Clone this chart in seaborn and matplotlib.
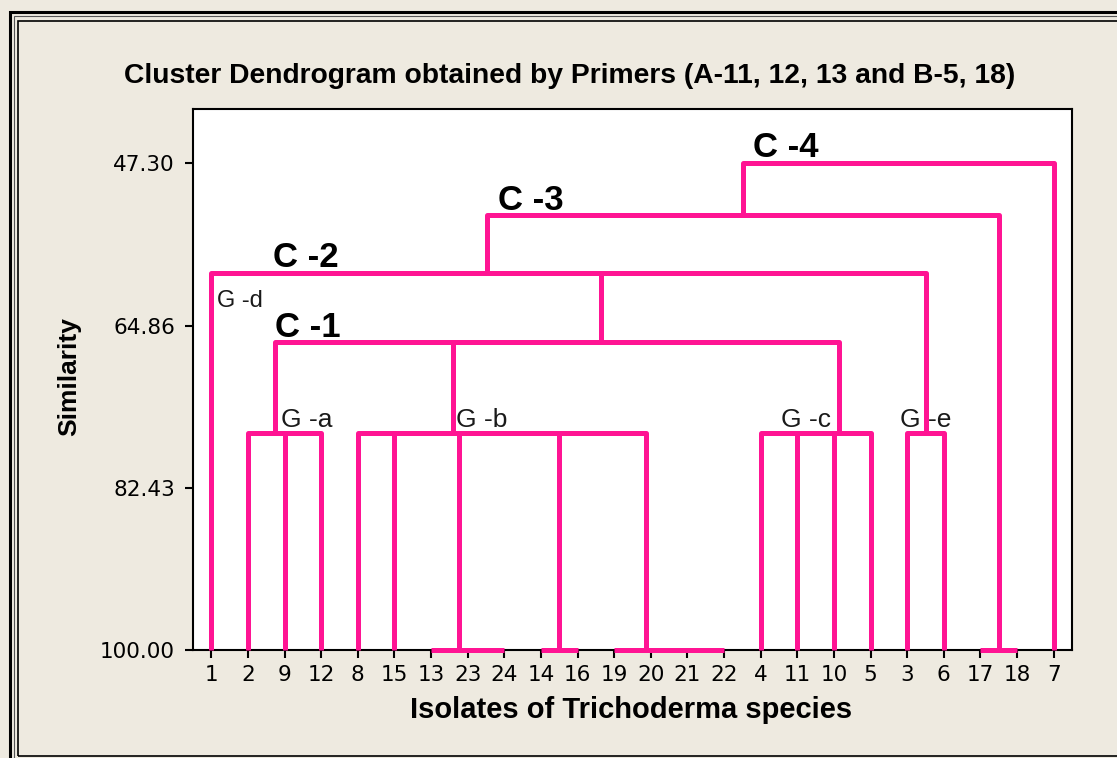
import matplotlib
matplotlib.use('Agg')
import matplotlib.pyplot as plt
from matplotlib.patches import Rectangle
import pandas as pd
import seaborn as sns

# leaf order along the x axis
leaves = ['1', '2', '9', '12', '8', '15', '13', '23', '24', '14', '16', '19',
          '20', '21', '22', '4', '11', '10', '5', '3', '6', '17', '18', '7']

# merge steps: left node, right node, similarity level (new nodes are n0, n1, ...)
merge_left = ['23', '13', '14', '21', '20', '19', '17',
              '9', '2', '8', 'n2', 'n1', 'n9', '4', 'n13', 'n14', '3',
              'n8', 'n17', 'n18', '1', 'n20', 'n21']
merge_right = ['24', 'n0', '16', '22', 'n3', 'n4', '18',
               '12', 'n7', '15', 'n5', 'n10', 'n11', '11', '10', '5', '6',
               'n12', 'n15', 'n16', 'n19', 'n6', '7']
merge_sim = [100, 100, 100, 100, 100, 100, 100,
             76.48, 76.48, 76.48, 76.48, 76.48, 76.48, 76.48, 76.48, 76.48, 76.48,
             66.67, 66.67, 59.14, 59.14, 52.90, 47.30]

y_ticks = [47.30, 64.86, 82.43, 100.00]

# build the dendrogram links
node_x = {lab: i + 1 for i, lab in enumerate(leaves)}
node_h = {lab: 100.0 for lab in leaves}
rows = []
for k, (a, b, h) in enumerate(zip(merge_left, merge_right, merge_sim)):
    xa, xb = node_x[a], node_x[b]
    for px, py in [(xa, node_h[a]), (xa, h), (xb, h), (xb, node_h[b])]:
        rows.append({'link': k, 'x': px, 'sim': py})
    node_x['n%d' % k] = (xa + xb) / 2
    node_h['n%d' % k] = h
seg = pd.DataFrame(rows)

sns.set_theme(style='white')
plt.rcParams['font.family'] = ['DejaVu Sans']
plt.rcParams['text.color'] = 'black'

W, H = 1117, 758
fig = plt.figure(figsize=(W / 100, H / 100), dpi=100, facecolor='#EEEAE0')
ax = fig.add_axes([193 / W, 1 - 650 / H, (1072 - 193) / W, (650 - 109) / H])
ax.set_facecolor('white')

pink = '#FF1493'
sns.lineplot(data=seg, x='x', y='sim', units='link', estimator=None, sort=False,
             color=pink, lw=3.6, legend=False, ax=ax)
for ln in ax.lines:
    ln.set_clip_on(False)
    ln.set_zorder(3)
    ln.set_solid_capstyle('butt')

ax.set_xlim(0.5, 24.5)
ax.set_ylim(100, 41.4)
ax.set_xticks(range(1, len(leaves) + 1))
ax.set_xticklabels(leaves)
ax.set_yticks(y_ticks)
ax.set_yticklabels(['%.2f' % v for v in y_ticks])
ax.tick_params(axis='both', direction='out', length=6, width=1.5, color='black',
               labelcolor='black', labelsize=15.5, left=True, bottom=True)
ax.tick_params(axis='y', pad=7)
ax.tick_params(axis='x', pad=5)
ax.set_xlabel('')
ax.set_ylabel('')
for sp in ax.spines.values():
    sp.set_visible(True)
    sp.set_color('black')
    sp.set_linewidth(1.5)

# cluster / group labels
arial = ['Liberation Sans', 'DejaVu Sans']
for txt, x, y in [('C -4', 15.78, 46.62), ('C -3', 8.84, 52.36),
                  ('C -2', 2.69, 58.54), ('C -1', 2.75, 66.13)]:
    ax.text(x, y, txt, fontsize=25, fontweight='bold', family=arial, color='black',
            ha='left', va='baseline', zorder=2)
ax.text(1.16, 62.88, 'G -d', fontsize=17, family=arial, color='#1a1a1a',
        ha='left', va='baseline', zorder=2)
for txt, x in [('G -a', 2.89), ('G -b', 7.69), ('G -c', 16.55), ('G -e', 19.80)]:
    ax.text(x, 75.88, txt, fontsize=19, family=arial, color='#1a1a1a',
            ha='left', va='baseline', zorder=2)

fig.text(570 / W, 1 - 83 / H,
         'Cluster Dendrogram obtained by Primers (A-11, 12, 13 and B-5, 18)',
         fontsize=20.3, fontweight='bold', family=arial, color='black',
         ha='center', va='baseline')
fig.text(631 / W, 1 - 718 / H, 'Isolates of Trichoderma species',
         fontsize=21, fontweight='bold', family=arial, color='black',
         ha='center', va='baseline')
fig.text(69 / W, 1 - 377 / H, 'Similarity', rotation=90,
         fontsize=19, fontweight='bold', family=arial, color='black',
         ha='center', va='center')

# double frame around the picture
fig.add_artist(Rectangle((10 / W, -0.05), 1.2, 1 - 12 / H + 0.05, transform=fig.transFigure,
                         fill=False, ec='black', lw=2.2))
fig.add_artist(Rectangle((13.5 / W, -0.05), 1.2, 1 - 16 / H + 0.05, transform=fig.transFigure,
                         fill=False, ec='#555555', lw=0.8))
fig.add_artist(Rectangle((17.5 / W, 2 / H), 1.2, 1 - 20.5 / H - 2 / H, transform=fig.transFigure,
                         fill=False, ec='black', lw=1.2))

fig.savefig('out.png', dpi=100, facecolor=fig.get_facecolor())
